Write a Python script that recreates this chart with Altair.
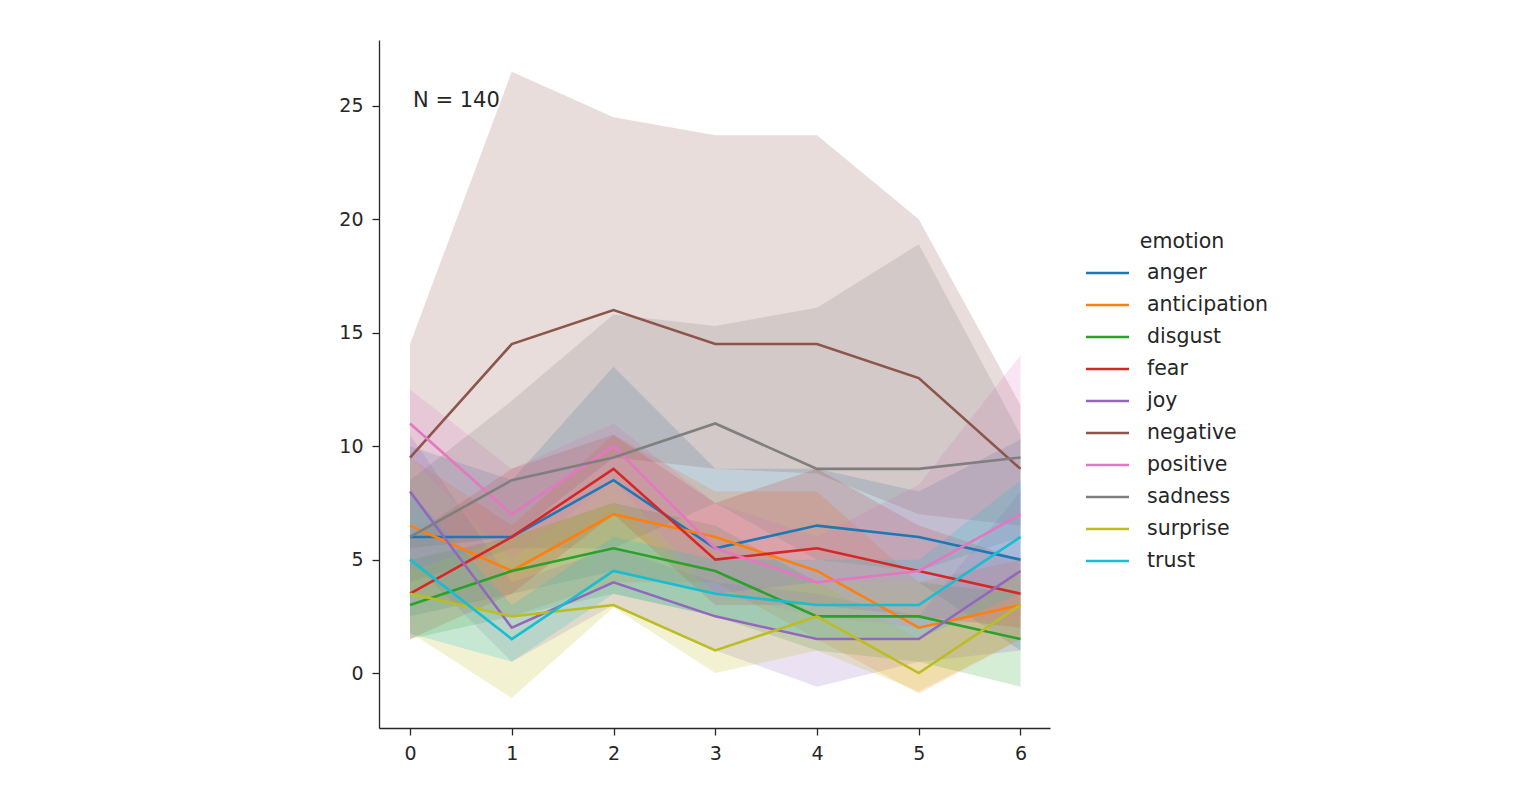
import altair as alt
import pandas as pd

# ---- data ----
emotions = ["anger", "anticipation", "disgust", "fear", "joy",
            "negative", "positive", "sadness", "surprise", "trust"]
x_steps = [0, 1, 2, 3, 4, 5, 6]

anger_mean = [6, 6, 8.5, 5.5, 6.5, 6, 5]
anger_lo = [2.5, 3.5, 4.5, 3.5, 4, 4, 1]
anger_hi = [10, 8.5, 13.5, 9, 9, 8, 10.3]

anticipation_mean = [6.5, 4.5, 7, 6, 4.5, 2, 3]
anticipation_lo = [3.5, 2.5, 4, 4, 1.5, -0.9, 1.5]
anticipation_hi = [9.5, 6.5, 10.5, 8, 8, 4, 5]

disgust_mean = [3, 4.5, 5.5, 4.5, 2.5, 2.5, 1.5]
disgust_lo = [1.5, 2.5, 3.5, 2.5, 1, 0.5, -0.6]
disgust_hi = [5, 6, 7.5, 6.5, 4, 4, 3.5]

fear_mean = [3.5, 6, 9, 5, 5.5, 4.5, 3.5]
fear_lo = [1.5, 3.5, 7, 3, 3, 2.5, 2]
fear_hi = [6, 9, 10.5, 7.5, 9, 6.5, 5]

joy_mean = [8, 2, 4, 2.5, 1.5, 1.5, 4.5]
joy_lo = [5, 0.5, 3, 1, -0.6, 0.5, 1]
joy_hi = [10.5, 4, 5.5, 4, 3.5, 2.5, 8]

negative_mean = [9.5, 14.5, 16, 14.5, 14.5, 13, 9]
negative_lo = [5.5, 6, 9.5, 9, 8.8, 7, 6.5]
negative_hi = [14.5, 26.5, 24.5, 23.7, 23.7, 20, 11.8]

positive_mean = [11, 7, 10, 5.5, 4, 4.5, 7]
positive_lo = [9.5, 5, 8.5, 3.5, 2.5, 2, 2.5]
positive_hi = [12.5, 9, 11, 7.5, 6, 8.3, 14]

sadness_mean = [6, 8.5, 9.5, 11, 9, 9, 9.5]
sadness_lo = [4, 5.5, 5.5, 7.5, 5, 4.5, 6]
sadness_hi = [8.5, 12, 15.8, 15.3, 16.1, 18.9, 10.5]

surprise_mean = [3.5, 2.5, 3, 1, 2.5, 0, 3]
surprise_lo = [1.8, -1.1, 2.9, 0, 1, -0.8, 1.5]
surprise_hi = [4.5, 6, 7.5, 3.5, 4, 1.5, 4.5]

trust_mean = [5, 1.5, 4.5, 3.5, 3, 3, 6]
trust_lo = [1.75, 0.5, 3.5, 2.5, 1.5, 1.5, 3.5]
trust_hi = [8, 3, 6, 5, 5, 5, 8.5]

palette = ["#1f77b4", "#ff7f0e", "#2ca02c", "#d62728", "#9467bd",
           "#8c564b", "#e377c2", "#7f7f7f", "#bcbd22", "#17becf"]

y_ticks = [0, 5, 10, 15, 20, 25]
annotation_text = ["N = 140"]
annotation_x = [0.03]
annotation_y = [25.2]

series = {
    "anger": (anger_mean, anger_lo, anger_hi),
    "anticipation": (anticipation_mean, anticipation_lo, anticipation_hi),
    "disgust": (disgust_mean, disgust_lo, disgust_hi),
    "fear": (fear_mean, fear_lo, fear_hi),
    "joy": (joy_mean, joy_lo, joy_hi),
    "negative": (negative_mean, negative_lo, negative_hi),
    "positive": (positive_mean, positive_lo, positive_hi),
    "sadness": (sadness_mean, sadness_lo, sadness_hi),
    "surprise": (surprise_mean, surprise_lo, surprise_hi),
    "trust": (trust_mean, trust_lo, trust_hi),
}

rows = []
for i, emo in enumerate(emotions):
    m, lo, hi = series[emo]
    for j, xv in enumerate(x_steps):
        rows.append({"emotion": emo, "order": i, "x": xv,
                     "mean": m[j], "lo": lo[j], "hi": hi[j]})
df = pd.DataFrame(rows)
ann = pd.DataFrame({"x": annotation_x, "y": annotation_y, "t": annotation_text})

FONT = "DejaVu Sans"
TXT = "#262626"

x_scale = alt.Scale(domain=[-0.305, 6.29], nice=False, zero=False)
y_scale = alt.Scale(domain=[-2.42, 27.9], nice=False, zero=False)
color_scale = alt.Scale(domain=emotions, range=palette)

x_enc = alt.X("x:Q", scale=x_scale,
              axis=alt.Axis(values=x_steps, title=None, format="d"))

legend = alt.Legend(
    title="emotion", orient="none", legendX=716, legendY=192,
    symbolType="M-2,0H2", symbolSize=462, symbolStrokeWidth=2.6,
    symbolOpacity=1,
    labelFontSize=20.5, titleFontSize=20.5, titleFontWeight="normal",
    labelFont=FONT, titleFont=FONT, labelColor=TXT, titleColor=TXT,
    labelOffset=27, rowPadding=9, titleAnchor="middle",
    titlePadding=8,
)

base = alt.Chart(df)

bands = base.mark_area(opacity=0.2, interpolate="linear").encode(
    x=x_enc,
    y=alt.Y("lo:Q", scale=y_scale,
            axis=alt.Axis(values=y_ticks, title=None, format="d")),
    y2="hi:Q",
    color=alt.Color("emotion:N", scale=color_scale, legend=legend),
    detail="emotion:N",
    order="order:Q",
)

lines = base.mark_line(strokeWidth=2.6).encode(
    x=x_enc,
    y=alt.Y("mean:Q", scale=y_scale),
    color=alt.Color("emotion:N", scale=color_scale, legend=legend),
    order="order:Q",
)

text = alt.Chart(ann).mark_text(
    align="left", baseline="middle", fontSize=21, font=FONT, color=TXT
).encode(
    x=alt.X("x:Q", scale=x_scale),
    y=alt.Y("y:Q", scale=y_scale),
    text="t:N",
)

chart = alt.layer(bands, lines, text).properties(
    width=671, height=688,
    padding={"left": 371, "top": 32, "right": 300, "bottom": 60},
    autosize=alt.AutoSizeParams(type="none"),
).configure_view(stroke=None).configure_axis(
    grid=False, domainColor=TXT, tickColor=TXT, domainWidth=1.3,
    tickWidth=1.3, tickSize=7, labelFontSize=19, labelFont=FONT,
    labelColor=TXT, labelPadding=9,
).configure_legend(
    symbolType="M-2,0H2", symbolOpacity=1, symbolStrokeWidth=2.6,
)

chart.save("out.html", embed_options={"renderer": "svg", "actions": False})
